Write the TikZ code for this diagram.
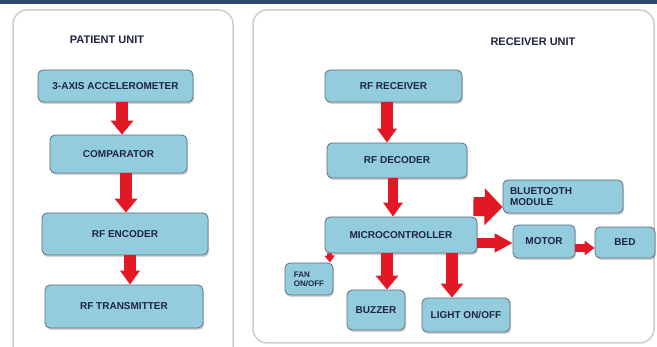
\documentclass[tikz,border=0pt]{standalone}
\usepackage{fontspec}
\setmainfont{Liberation Sans}
\usetikzlibrary{arrows.meta,shadows}
\definecolor{boxblue}{RGB}{147,205,221}
\definecolor{boxline}{RGB}{95,110,125}
\definecolor{arrowred}{RGB}{226,24,36}
\definecolor{labelink}{RGB}{30,36,62}
\definecolor{slidebar}{RGB}{44,72,110}
\definecolor{panelline}{RGB}{205,205,205}

\begin{document}
\begin{tikzpicture}[x=1pt, y=-1pt,
  unit/.style={draw=boxline, fill=boxblue, rounded corners=5pt, line width=0.8pt,
    drop shadow={shadow xshift=1pt, shadow yshift=-2pt, opacity=0.35},
    font=\bfseries\fontsize{10}{11}\selectfont, text=labelink, inner sep=2pt},
  flow/.style={draw=arrowred, line width=12pt, -{Triangle[length=14pt,width=22pt]}},
  panel/.style={draw=panelline, line width=1.5pt, rounded corners=14pt, fill=white},
  title/.style={font=\bfseries\fontsize{11}{12}\selectfont, text=labelink}]
  \useasboundingbox (0,0) rectangle (657,347);
  % ---- Slide background ----
  \fill[slidebar] (0,0) rectangle (657,4);
  \draw[panel] (13,10) rectangle (233,370);
  \draw[panel] (253,10) rectangle (654,343);

  % ---- Patient unit ----
  \node[title] (ptitle) at (107,40) {PATIENT UNIT};
  \node[unit, minimum width=155, minimum height=32] (acc) at (115.5,86) {3-AXIS ACCELEROMETER};
  \node[unit, minimum width=137, minimum height=38] (comp) at (118.5,154) {COMPARATOR};
  \node[unit, minimum width=166, minimum height=42] (enc) at (125,234) {RF ENCODER};
  \node[unit, minimum width=158, minimum height=43] (trans) at (124,306.5) {RF TRANSMITTER};
  \draw[flow] ([xshift=6.5pt]acc.south) -- ([xshift=3.5pt]comp.north);
  \draw[flow] ([xshift=7.5pt]comp.south) -- ([xshift=1pt]enc.north);
  \draw[flow, -{Triangle[length=14pt,width=19pt]}] ([xshift=5pt]enc.south) -- ([xshift=6pt]trans.north);

  % ---- Receiver unit ----
  \node[title] (rtitle) at (533,42) {RECEIVER UNIT};
  \node[unit, minimum width=137, minimum height=32] (rfrx) at (393.5,86) {RF RECEIVER};
  \node[unit, minimum width=140, minimum height=35] (rfdec) at (397,160.5) {RF DECODER};
  \node[unit, minimum width=152, minimum height=36] (mcu) at (401,235) {MICROCONTROLLER};
  \node[unit, minimum width=120, minimum height=33, align=left, text width=106, inner sep=4pt] (bt) at (563,196.5) {BLUETOOTH\\MODULE};
  \node[unit, minimum width=62, minimum height=33] (motor) at (544,241.5) {MOTOR};
  \node[unit, minimum width=60, minimum height=31] (bed) at (625,242.5) {BED};
  \node[unit, minimum width=48, minimum height=32, align=left, inner sep=1pt,
    font=\bfseries\fontsize{8}{9}\selectfont] (fan) at (309,279) {FAN\\ON/OFF};
  \node[unit, minimum width=58, minimum height=40] (buzz) at (376,310) {BUZZER};
  \node[unit, minimum width=88, minimum height=34] (light) at (466,315) {LIGHT ON/OFF};
  \draw[flow, -{Triangle[length=14pt,width=19pt]}] ([xshift=-6.5pt]rfrx.south) -- ([xshift=-10pt]rfdec.north);
  \draw[flow, line width=10pt, -{Triangle[length=14pt,width=19pt]}] ([xshift=-4pt]rfdec.south) -- ([xshift=-8pt]mcu.north);
  \draw[flow] ([xshift=-14pt]mcu.south) -- ([xshift=11pt]buzz.north);
  \draw[flow] ([xshift=51pt]mcu.south) -- ([xshift=-14pt]light.north);
  \draw[flow, line width=5pt, -{Triangle[length=7pt,width=10pt]}] ([xshift=5pt]mcu.south west) -- ([xshift=21pt]fan.north);
  \draw[flow, line width=19pt, -{Triangle[length=18pt,width=36pt]}] ([xshift=-4pt,yshift=10pt]mcu.north east) -- ([yshift=-10.5pt]bt.west);
  \draw[flow, line width=10pt, -{Triangle[length=18pt,width=18pt]}] ([yshift=-8pt]mcu.east) -- ([yshift=-1.5pt]motor.west);
  \draw[flow, line width=8pt, -{Triangle[length=10pt,width=14pt]}] ([yshift=-6.5pt]motor.east) -- ([yshift=-5.5pt]bed.west);
\end{tikzpicture}
\end{document}
